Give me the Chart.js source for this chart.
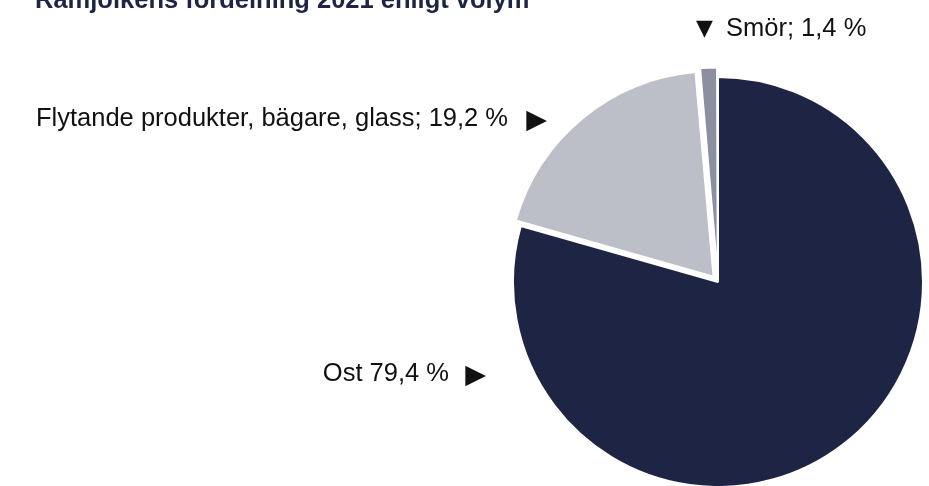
<!DOCTYPE html>
<html>
<head>
<meta charset="utf-8">
<script src="https://cdn.jsdelivr.net/npm/chart.js@4.4.1/dist/chart.umd.min.js"></script>
<style>
  html, body { margin: 0; padding: 0; background: #ffffff; }
  #wrap { position: relative; width: 929px; height: 486px; overflow: hidden; }
  canvas { display: block; }
</style>
</head>
<body>
<div id="wrap"><canvas id="c" width="929" height="486"></canvas></div>
<script>
const title = "Råmjölkens fördelning 2021 enligt volym";
const categories = ["Ost", "Flytande produkter, bägare, glass", "Smör"];
const values = [79.4, 19.2, 1.4];
const separators = [" ", "; ", "; "];
const colors = ["#1e2544", "#bcbfc8", "#8b8fa0"];
const offsets = [0, 28, 20];

const fmt = v => v.toFixed(1).replace(".", ",") + " %";
const labelText = categories.map((c, i) => c + separators[i] + fmt(values[i]));

const labelPlugin = {
  id: "labelPlugin",
  afterDraw(chart) {
    const ctx = chart.ctx;
    ctx.save();
    // title (partially cut at the top edge)
    ctx.fillStyle = "#1e2544";
    ctx.font = "bold 25.5px 'Liberation Sans Narrow', 'Liberation Sans', sans-serif";
    ctx.textAlign = "left";
    ctx.textBaseline = "alphabetic";
    ctx.fillText(title, 35, 8);

    const txtFont = "25.5px 'Liberation Sans', Arial, sans-serif";
    const arrowFont = "27px 'DejaVu Sans', sans-serif";
    const downFont = "22px 'DejaVu Sans', sans-serif";
    ctx.fillStyle = "#111111";

    // Ost
    ctx.font = arrowFont;
    ctx.textAlign = "right";
    ctx.fillText("\u25B6", 486, 383);
    ctx.font = txtFont;
    ctx.fillText(labelText[0], 449, 381);

    // Flytande
    ctx.textAlign = "left";
    ctx.font = txtFont;
    ctx.fillText(labelText[1], 36, 126);
    ctx.font = arrowFont;
    ctx.textAlign = "right";
    ctx.fillText("\u25B6", 547, 128);

    // Smör
    ctx.textAlign = "left";
    ctx.font = downFont;
    ctx.fillText("\u25BC", 696, 35);
    ctx.font = txtFont;
    ctx.fillText(labelText[2], 726, 36);
    ctx.restore();
  }
};

new Chart(document.getElementById("c"), {
  type: "pie",
  data: {
    labels: categories,
    datasets: [{
      data: values,
      backgroundColor: colors,
      borderColor: "#ffffff",
      borderWidth: 2,
      offset: offsets
    }]
  },
  options: {
    responsive: false,
    animation: false,
    radius: 205,
    layout: { padding: { left: 510, right: 3, top: 80, bottom: 2 } },
    plugins: {
      legend: { display: false },
      tooltip: { enabled: false },
      title: { display: false }
    }
  },
  plugins: [labelPlugin]
});
</script>
</body>
</html>
